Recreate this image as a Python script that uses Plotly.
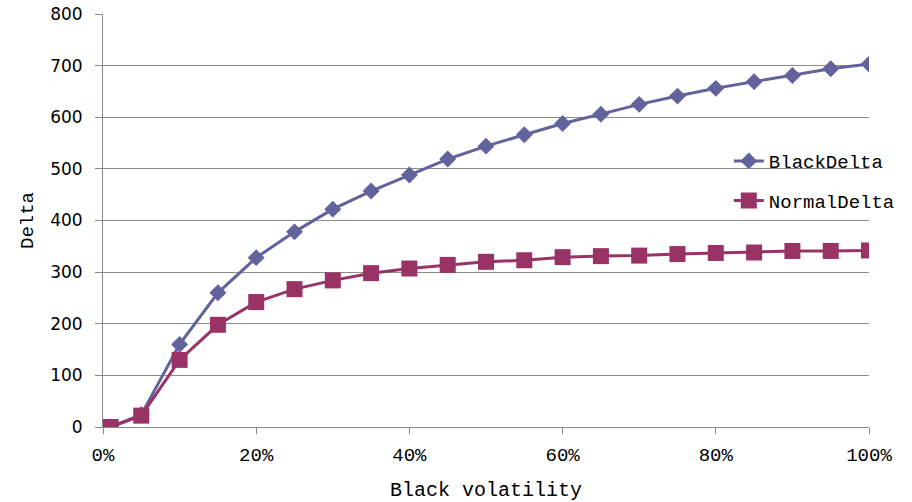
import plotly.graph_objects as go

vol = [0.01, 0.05, 0.10, 0.15, 0.20, 0.25, 0.30, 0.35, 0.40, 0.45, 0.50,
       0.55, 0.60, 0.65, 0.70, 0.75, 0.80, 0.85, 0.90, 0.95, 1.00]
black_delta = [0, 24, 160, 260, 328, 378, 422, 457, 488, 519, 544,
               566, 588, 606, 625, 641, 656, 669, 681, 694, 703]
normal_delta = [0, 22, 130, 198, 242, 267, 284, 298, 307, 314, 320,
                323, 329, 331, 332, 335, 337, 338, 341, 341, 342]

mono = "Liberation Mono"
fig = go.Figure()
fig.add_trace(go.Scatter(x=vol, y=black_delta, name="BlackDelta", mode="lines+markers",
                         legendgroup="a",
                         line=dict(color="#62629C", width=3),
                         marker=dict(symbol="diamond", size=13, color="#62629C")))
fig.add_trace(go.Scatter(x=vol, y=normal_delta, name="NormalDelta", mode="lines+markers",
                         legendgroup="b",
                         line=dict(color="#993366", width=3),
                         marker=dict(symbol="square", size=16, color="#993366")))

fig.update_layout(
    width=912, height=502,
    margin=dict(l=103, r=43, t=14, b=75),
    paper_bgcolor="white", plot_bgcolor="white",
    showlegend=True,
    legend=dict(x=0.817, y=0.69, xanchor="left", yanchor="top",
                font=dict(family=mono, size=19, color="black"),
                traceorder="grouped", tracegroupgap=12, borderwidth=0,
                bgcolor="rgba(0,0,0,0)"),
    xaxis=dict(range=[0, 1], dtick=0.2, tick0=0, tickformat=".0%", automargin=False,
               showgrid=False, zeroline=False, showline=True, linecolor="#888888", linewidth=1,
               ticks="outside", ticklen=6, tickcolor="#888888",
               tickfont=dict(family=mono, size=19, color="black"), ticklabelstandoff=4,
               title=dict(text="Black volatility", font=dict(family=mono, size=20, color="black"), standoff=24)),
    yaxis=dict(range=[0, 800], dtick=100, tick0=0, automargin=False,
               showgrid=True, gridcolor="#8c8c8c", gridwidth=1, zeroline=False,
               showline=True, linecolor="#888888", linewidth=1,
               ticks="outside", ticklen=7, tickcolor="#888888",
               tickfont=dict(family="DejaVu Sans", size=17, color="black"), ticklabelstandoff=9,
               title=dict(text="Delta", font=dict(family=mono, size=19, color="black"), standoff=11)),
)
fig.write_html("out.html")
